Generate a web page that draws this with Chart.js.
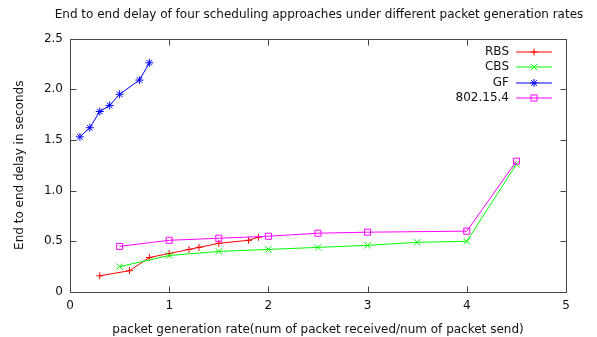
<!DOCTYPE html>
<html>
<head>
<meta charset="utf-8">
<script src="https://cdn.jsdelivr.net/npm/chart.js@4/dist/chart.umd.min.js"></script>
<style>
  html, body { margin: 0; padding: 0; background: #fff; }
  canvas { display: block; }
</style>
</head>
<body>
<canvas id="c" width="597" height="337"></canvas>
<script>
// Packet generation rate (x) and end-to-end delay in seconds (y) per approach
const rbsRate   = [0.3, 0.6, 0.8, 1.0, 1.2, 1.3, 1.5, 1.8, 1.9];
const rbsDelay  = [0.16, 0.21, 0.34, 0.38, 0.42, 0.44, 0.48, 0.51, 0.54];
const cbsRate   = [0.5, 1.0, 1.5, 2.0, 2.5, 3.0, 3.5, 4.0, 4.5];
const cbsDelay  = [0.25, 0.36, 0.40, 0.42, 0.44, 0.46, 0.49, 0.50, 1.26];
const gfRate    = [0.1, 0.2, 0.3, 0.4, 0.5, 0.7, 0.8];
const gfDelay   = [1.53, 1.62, 1.78, 1.84, 1.95, 2.09, 2.26];
const ieeeRate  = [0.5, 1.0, 1.5, 2.0, 2.5, 3.0, 4.0, 4.5];
const ieeeDelay = [0.45, 0.51, 0.53, 0.55, 0.58, 0.59, 0.60, 1.29];

const seriesNames = ['RBS', 'CBS', 'GF', '802.15.4'];
const xTicks = [0, 1, 2, 3, 4, 5];
const yTicks = [0, 0.5, 1, 1.5, 2, 2.5];
const chartTitle = 'End to end delay of four scheduling approaches under different packet generation rates';

const FONT = 'DejaVu Sans';
const TEXT = '#111';

function pairs(xs, ys) { return xs.map((x, i) => ({ x: x, y: ys[i] })); }

function series(label, xs, ys, color, style, radius, order) {
  return {
    label: label,
    data: pairs(xs, ys),
    borderColor: color,
    backgroundColor: color,
    borderWidth: 1,
    pointStyle: style,
    pointRadius: radius,
    pointHoverRadius: radius,
    pointBorderColor: color,
    pointBackgroundColor: 'rgba(0,0,0,0)',
    pointBorderWidth: 1,
    tension: 0,
    fill: false,
    order: order
  };
}

// Small marker glyphs for the key (plus, cross, asterisk, open box)
function keyMarker(ctx, style, x, y, r) {
  ctx.beginPath();
  if (style === 'cross' || style === 'star') {
    ctx.moveTo(x - r, y); ctx.lineTo(x + r, y);
    ctx.moveTo(x, y - r); ctx.lineTo(x, y + r);
  }
  if (style === 'crossRot' || style === 'star') {
    const d = r * Math.SQRT1_2;
    ctx.moveTo(x - d, y - d); ctx.lineTo(x + d, y + d);
    ctx.moveTo(x - d, y + d); ctx.lineTo(x + d, y - d);
  }
  if (style === 'rect') {
    const d = r * Math.SQRT1_2;
    ctx.rect(x - d, y - d, 2 * d, 2 * d);
  }
  ctx.stroke();
}

// Title, frame with inward ticks on all four sides, and a gnuplot-style key
const framePlugin = {
  id: 'frame',
  afterDraw(chart) {
    const ctx = chart.ctx;
    const a = chart.chartArea;
    const xs = chart.scales.x, ys = chart.scales.y;
    const L = Math.round(a.left) + 0.5, R = Math.round(a.right) + 0.5;
    const T = Math.round(a.top) + 0.5, B = Math.round(a.bottom) + 0.5;
    const tl = 6;
    ctx.save();

    ctx.font = '12px ' + FONT;
    ctx.fillStyle = TEXT;
    ctx.textAlign = 'center';
    ctx.textBaseline = 'middle';
    ctx.fillText(chartTitle, (a.left + a.right) / 2 + 1, 15);

    ctx.strokeStyle = '#444';
    ctx.lineWidth = 1;
    ctx.beginPath();
    ctx.rect(L, T, R - L, B - T);
    xTicks.forEach(v => {
      const px = Math.round(xs.getPixelForValue(v)) + 0.5;
      ctx.moveTo(px, B); ctx.lineTo(px, B - tl);
      ctx.moveTo(px, T); ctx.lineTo(px, T + tl);
    });
    yTicks.forEach(v => {
      const py = Math.round(ys.getPixelForValue(v)) + 0.5;
      ctx.moveTo(L, py); ctx.lineTo(L + tl, py);
      ctx.moveTo(R, py); ctx.lineTo(R - tl, py);
    });
    ctx.stroke();

    // key
    ctx.textAlign = 'right';
    const textRight = a.right - 57;
    const x0 = a.right - 50, x1 = a.right - 14, xm = Math.round((x0 + x1) / 2);
    chart.data.datasets.forEach((ds, i) => {
      const y = Math.round(a.top + 13.5 + i * 15.3);
      ctx.fillStyle = TEXT;
      ctx.fillText(ds.label, textRight, y);
      ctx.strokeStyle = ds.borderColor;
      ctx.lineWidth = 1;
      ctx.beginPath();
      ctx.moveTo(x0, y); ctx.lineTo(x1, y);
      ctx.stroke();
      keyMarker(ctx, ds.pointStyle, xm, y, ds.pointRadius);
    });
    ctx.restore();
  }
};

new Chart(document.getElementById('c'), {
  type: 'line',
  data: {
    datasets: [
      series(seriesNames[0], rbsRate, rbsDelay, '#ff0000', 'cross', 3.5, 3),
      series(seriesNames[1], cbsRate, cbsDelay, '#00ff00', 'crossRot', 4.5, 2),
      series(seriesNames[2], gfRate, gfDelay, '#0000ff', 'star', 4, 1),
      series(seriesNames[3], ieeeRate, ieeeDelay, '#ff00ff', 'rect', 4.3, 0)
    ]
  },
  options: {
    responsive: false,
    animation: false,
    devicePixelRatio: 1,
    layout: { padding: { left: 0, right: 31, top: 38.5, bottom: 0 } },
    plugins: {
      legend: { display: false },
      tooltip: { enabled: false },
      title: { display: false }
    },
    scales: {
      x: {
        type: 'linear',
        min: 0, max: 5,
        afterFit(s) { s.height = 45; },
        afterBuildTicks(s) { s.ticks = xTicks.map(v => ({ value: v })); },
        grid: { display: false, drawTicks: false },
        border: { display: false },
        ticks: { padding: 7, color: TEXT, font: { family: FONT, size: 12 }, maxRotation: 0 },
        title: {
          display: true,
          text: 'packet generation rate(num of packet received/num of packet send)',
          color: TEXT,
          font: { family: FONT, size: 12 },
          padding: { top: 0, bottom: 0 }
        }
      },
      y: {
        type: 'linear',
        min: 0, max: 2.5,
        afterFit(s) { s.width = 70; },
        afterBuildTicks(s) { s.ticks = yTicks.map(v => ({ value: v })); },
        grid: { display: false, drawTicks: false },
        border: { display: false },
        ticks: { padding: 7, color: TEXT, font: { family: FONT, size: 12 } },
        title: {
          display: true,
          text: 'End to end delay in seconds',
          color: TEXT,
          font: { family: FONT, size: 12 },
          padding: { top: 12.8, bottom: 0 }
        }
      }
    }
  },
  plugins: [framePlugin]
});
</script>
</body>
</html>
